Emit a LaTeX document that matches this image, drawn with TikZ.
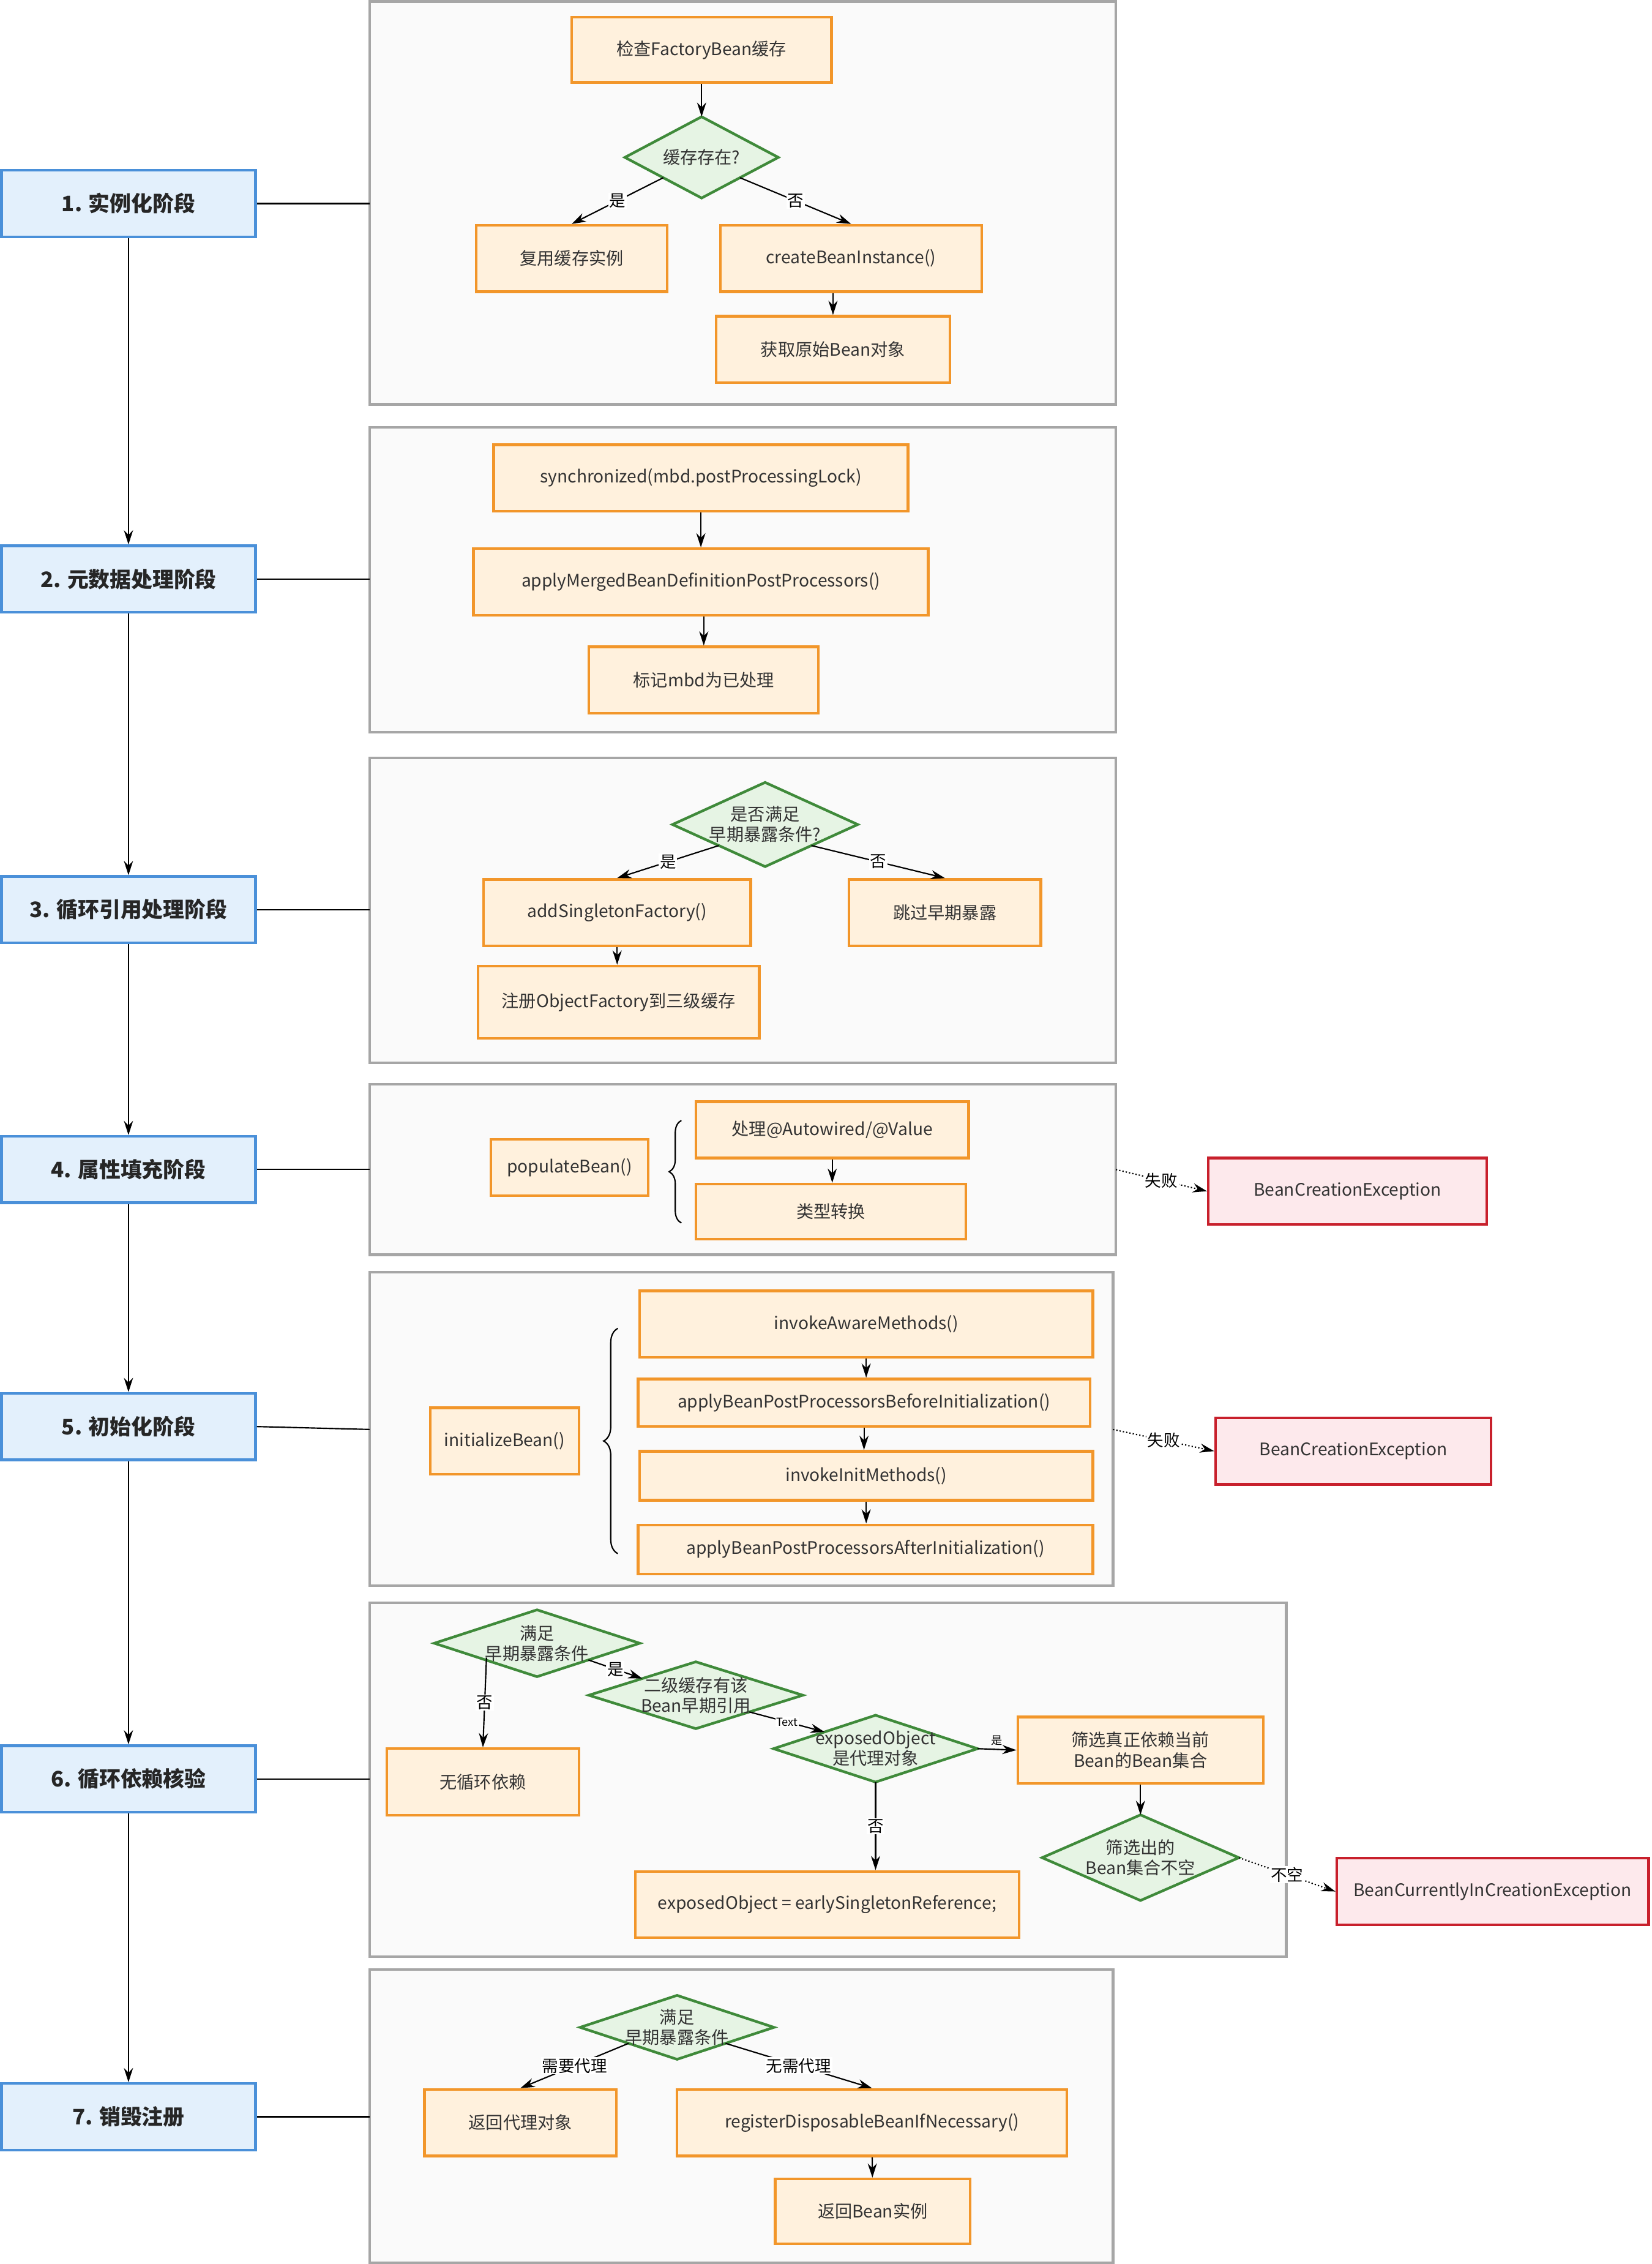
\documentclass[tikz,border=0pt]{standalone}
\usepackage{fontspec}
\setmainfont{Noto Sans CJK SC}
\usetikzlibrary{arrows.meta,calc,decorations.pathreplacing}
\definecolor{stf}{HTML}{E3F0FC}\definecolor{std}{HTML}{4A90D9}
\definecolor{bxf}{HTML}{FFF1DD}\definecolor{bxd}{HTML}{F2962A}
\definecolor{dif}{HTML}{E6F4E4}\definecolor{did}{HTML}{3F8A3A}
\definecolor{exf}{HTML}{FDE9EC}\definecolor{exd}{HTML}{C8202C}
\definecolor{pnf}{HTML}{FAFAFA}\definecolor{pnd}{HTML}{A6A6A6}
\tikzset{
 stage/.style={draw=std,fill=stf,line width=2.6pt,minimum width=8.8cm,minimum height=2.3cm,font=\fontsize{21}{25}\selectfont\bfseries,text=black!85},
 box/.style={draw=bxd,fill=bxf,line width=2.6pt,font=\fontsize{17}{21}\selectfont,text=black!80,align=center},
 exc/.style={draw=exd,fill=exf,line width=2.6pt,font=\fontsize{17}{21}\selectfont,text=black!80,minimum height=2.3cm},
 panel/.style={draw=pnd,fill=pnf,line width=2.6pt},
 dtxt/.style={font=\fontsize{17}{20}\selectfont,text=black!80,align=center,inner sep=0pt},
 arr/.style={-{Stealth[length=14pt,width=9pt]},line width=1.3pt},
 ln/.style={line width=1.3pt},
 dot/.style={arr,dotted},
 lab/.style={font=\fontsize{16}{18}\selectfont,fill=white,inner sep=1pt},
 slab/.style={font=\fontsize{11}{12}\selectfont,fill=white,inner sep=1pt},
}
\newcommand{\bx}[6]{\node[box,minimum width=#4*0.05cm,minimum height=#5*0.05cm] (#1) at (#2*0.05,-#3*0.05) {#6};}
\newcommand{\dia}[6]{%
 \node[minimum width=#4*0.05cm,minimum height=#5*0.05cm,inner sep=0pt] (#1) at (#2*0.05,-#3*0.05) {};
 \draw[draw=did,fill=dif,line width=2.6pt] (#1.north)--(#1.east)--(#1.south)--(#1.west)--cycle;
 \node[dtxt] at (#1) {#6};}
\begin{document}
\begin{tikzpicture}
\useasboundingbox[fill=white] (0,0) rectangle (57.2,-78.4);
% panels
\foreach \a/\b/\c/\d in {256/1/773/280,256/296/773/507,256/525/773/736,256/751/773/869,256/881/771/1098,256/1110/891/1355,256/1364/771/1567}
  \draw[panel] (\a*0.05,-\b*0.05) rectangle (\c*0.05,-\d*0.05);
% stages
\node[stage] (s1) at (4.45,-7.05) {1. 实例化阶段};
\node[stage] (s2) at (4.45,-20.05) {2. 元数据处理阶段};
\node[stage] (s3) at (4.45,-31.5) {3. 循环引用处理阶段};
\node[stage] (s4) at (4.45,-40.5) {4. 属性填充阶段};
\node[stage] (s5) at (4.45,-49.4) {5. 初始化阶段};
\node[stage] (s6) at (4.45,-61.6) {6. 循环依赖核验};
\node[stage] (s7) at (4.45,-73.3) {7. 销毁注册};
\foreach \i/\j in {s1/s2,s2/s3,s3/s4,s4/s5,s5/s6,s6/s7} \draw[arr] (\i)--(\j);
\coordinate (p1) at (12.8,-7.05);\coordinate (p2) at (12.8,-20.05);\coordinate (p3) at (12.8,-31.5);
\coordinate (p4) at (12.8,-40.5);\coordinate (p5) at (12.8,-49.5);\coordinate (p6) at (12.8,-61.6);\coordinate (p7) at (12.8,-73.3);
\foreach \i in {1,...,7} \draw[ln] (s\i.east)--(p\i);
% P1
\bx{a1}{486}{34.5}{180}{45}{检查FactoryBean缓存}
\dia{d1}{486}{109}{106}{56}{缓存存在?}
\bx{a2}{396}{179}{132}{46}{复用缓存实例}
\bx{a3}{589.5}{179}{181}{46}{createBeanInstance()}
\bx{a4}{577}{242}{162}{46}{获取原始Bean对象}
\draw[arr] (a1)--(d1.north);
\draw[arr] ($(d1.west)!0.5!(d1.south)$)--node[lab]{是}(a2.north);
\draw[arr] ($(d1.east)!0.5!(d1.south)$)--node[lab]{否}(a3.north);
\draw[arr] (a4.north|-a3.south)--(a4.north);
% P2
\bx{b1}{485.5}{331}{287}{46}{synchronized(mbd.postProcessingLock)}
\bx{b2}{485.5}{403}{315}{46}{applyMergedBeanDefinitionPostProcessors()}
\bx{b3}{487.5}{471}{159}{46}{标记mbd为已处理}
\draw[arr] (b1)--(b2);\draw[arr] (b3.north|-b2.south)--(b3.north);
% P3
\dia{d3}{530}{571}{128}{58}{是否满足\\早期暴露条件?}
\bx{c1}{427.5}{632}{185}{46}{addSingletonFactory()}
\bx{c2}{654.5}{632}{133}{46}{跳过早期暴露}
\bx{c3}{428.5}{694}{195}{50}{注册ObjectFactory到三级缓存}
\draw[arr] ($(d3.west)!0.5!(d3.south)$)--node[lab]{是}(c1.north);
\draw[arr] ($(d3.east)!0.5!(d3.south)$)--node[lab]{否}(c2.north);
\draw[arr] (c1.south)--(c1.south|-c3.north);
% P4
\bx{e1}{394.5}{808.5}{109}{39}{populateBean()}
\bx{e2}{576.5}{782.5}{189}{39}{处理@Autowired/@Value}
\bx{e3}{575.5}{839}{187}{38}{类型转换}
\draw[arr] (e2)--(e2.south|-e3.north);
\draw[ln,decorate,decoration={brace,amplitude=12pt}] (23.6,-42.35)--(23.6,-38.8);
\node[exc,minimum width=9.65cm] (x1) at (46.675,-41.25) {BeanCreationException};
\coordinate (q4) at (38.65,-40.5);
\draw[dot] (q4)--node[lab,pos=0.5]{失败}(x1.west);
% P5
\bx{f0}{349.5}{998}{103}{46}{initializeBean()}
\bx{f1}{600}{917}{314}{46}{invokeAwareMethods()}
\bx{f2}{598.5}{971.5}{313}{33}{applyBeanPostProcessorsBeforeInitialization()}
\bx{f3}{600}{1022}{314}{34}{invokeInitMethods()}
\bx{f4}{599.5}{1073}{315}{34}{applyBeanPostProcessorsAfterInitialization()}
\draw[arr] (f1)--(f1.south|-f2.north);\draw[arr] (f2)--(f2.south|-f3.north);\draw[arr] (f3)--(f3.south|-f4.north);
\draw[ln,decorate,decoration={brace,amplitude=14pt}] (21.4,-53.8)--(21.4,-46);
\node[exc,minimum width=9.55cm] (x2) at (46.875,-50.25) {BeanCreationException};
\coordinate (q5) at (38.55,-49.5);
\draw[dot] (q5)--node[lab]{失败}(x2.west);
% P6
\dia{g1}{372}{1138}{142}{46}{满足\\早期暴露条件}
\dia{g2}{482}{1174}{148}{46}{二级缓存有该\\Bean早期引用}
\dia{g3}{606.5}{1211}{141}{46}{exposedObject\\是代理对象}
\bx{h1}{790}{1212}{170}{46}{筛选真正依赖当前\\Bean的Bean集合}
\dia{g4}{790}{1286.5}{136}{59}{筛选出的\\Bean集合不空}
\bx{h0}{334.5}{1234}{133}{46}{无循环依赖}
\bx{h2}{573}{1319}{266}{46}{exposedObject = earlySingletonReference;}
\node[exc,minimum width=10.8cm] (x3) at (51.7,-65.5) {BeanCurrentlyInCreationException};
\coordinate (g1a) at (16.85,-57.4);
\draw[arr] (g1a)--node[lab]{否}(h0.north);
\draw[arr] ($(g1.east)!0.5!(g1.south)$)--node[lab]{是}($(g2.west)!0.5!(g2.north)$);
\draw[arr] ($(g2.east)!0.5!(g2.south)$)--node[slab]{Text}($(g3.west)!0.5!(g3.north)$);
\draw[arr] (g3.east)--node[slab,above=2pt,fill=none]{是}(h1.west);
\draw[arr] (g3.south)--node[lab]{否}(g3.south|-h2.north);
\draw[arr] (h1)--(g4.north);
\draw[dot] (g4.east)--node[lab]{不空}(x3.west);
% P7
\dia{k1}{469}{1404}{134}{44}{满足\\早期暴露条件}
\bx{m1}{360.5}{1470}{133}{46}{返回代理对象}
\bx{m2}{604}{1470}{270}{46}{registerDisposableBeanIfNecessary()}
\bx{m3}{604.5}{1531.5}{135}{45}{返回Bean实例}
\draw[arr] ($(k1.west)!0.5!(k1.south)$)--node[lab]{需要代理}(m1.north);
\draw[arr] ($(k1.east)!0.5!(k1.south)$)--node[lab]{无需代理}(m2.north);
\draw[arr] (m2)--(m3);
\end{tikzpicture}
\end{document}
